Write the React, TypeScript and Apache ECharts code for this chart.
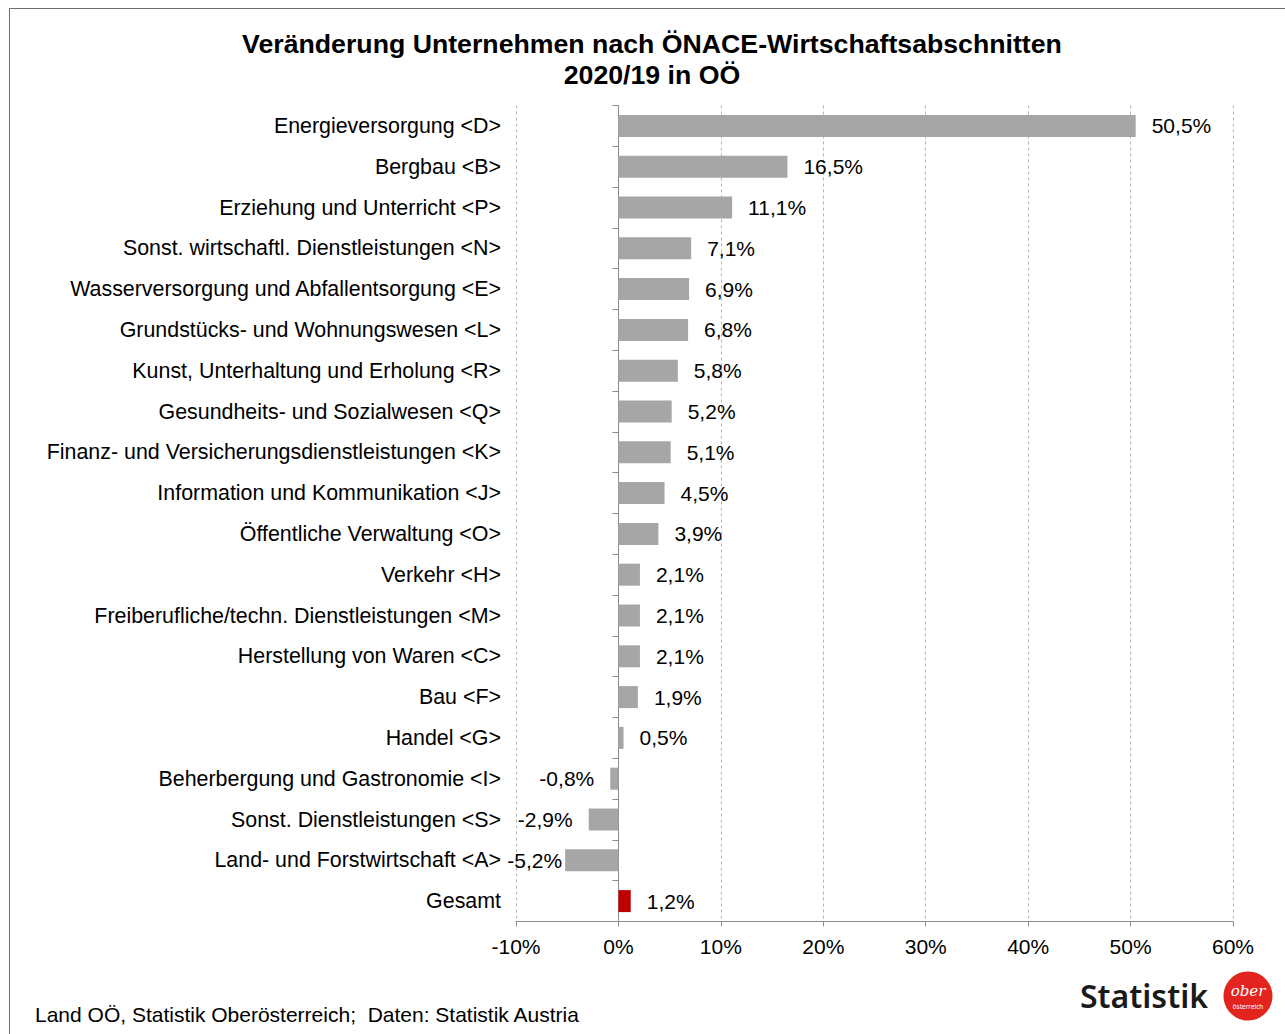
import React, { useEffect, useRef } from "react";
import * as echarts from "echarts";

const categories: string[] = [
  "Energieversorgung <D>",
  "Bergbau <B>",
  "Erziehung und Unterricht <P>",
  "Sonst. wirtschaftl. Dienstleistungen <N>",
  "Wasserversorgung und Abfallentsorgung <E>",
  "Grundstücks- und Wohnungswesen <L>",
  "Kunst, Unterhaltung und Erholung <R>",
  "Gesundheits- und Sozialwesen <Q>",
  "Finanz- und Versicherungsdienstleistungen <K>",
  "Information und Kommunikation <J>",
  "Öffentliche Verwaltung <O>",
  "Verkehr <H>",
  "Freiberufliche/techn. Dienstleistungen <M>",
  "Herstellung von Waren <C>",
  "Bau <F>",
  "Handel <G>",
  "Beherbergung und Gastronomie <I>",
  "Sonst. Dienstleistungen <S>",
  "Land- und Forstwirtschaft <A>",
  "Gesamt",
];

const values: number[] = [
  50.5, 16.5, 11.1, 7.1, 6.9, 6.8, 5.8, 5.2, 5.1, 4.5, 3.9, 2.1, 2.1, 2.1, 1.9,
  0.5, -0.8, -2.9, -5.2, 1.2,
];

const highlightCategory = "Gesamt";

const titleLines: string[] = [
  "Veränderung Unternehmen nach ÖNACE-Wirtschaftsabschnitten",
  "2020/19 in OÖ",
];

const sourceText = "Land OÖ, Statistik Oberösterreich;  Daten: Statistik Austria";

const FONT = "'Liberation Sans', Arial, sans-serif";
const fmt = (v: number) => v.toFixed(1).replace(".", ",") + "%";

export default function App() {
  const ref = useRef<HTMLDivElement>(null);

  useEffect(() => {
    if (!ref.current) return;
    const chart = echarts.init(ref.current, null, { renderer: "svg" });

    const data = values.map((v, i) => {
      const isHi = categories[i] === highlightCategory;
      const neg = v < 0;
      return {
        value: v,
        itemStyle: { color: isHi ? "#c00000" : "#a6a6a6" },
        label: {
          position: neg ? "left" : "right",
          distance: v <= -5 ? 3 : 16,
        },
      };
    });

    chart.setOption({
      animation: false,
      backgroundColor: "#ffffff",
      textStyle: { fontFamily: FONT },
      grid: {
        left: 516,
        right: 52,
        top: 105.5,
        bottom: 112.5,
        containLabel: false,
      },
      xAxis: {
        type: "value",
        min: -10,
        max: 60,
        interval: 10,
        axisLine: { show: true, lineStyle: { color: "#8c8c8c", width: 1 } },
        axisTick: { show: true, length: 5, lineStyle: { color: "#8c8c8c" } },
        axisLabel: {
          formatter: (v: number) => `${v}%`,
          fontSize: 21,
          color: "#000",
          fontFamily: FONT,
          margin: 14,
        },
        splitLine: {
          show: true,
          lineStyle: { color: "#b3b3b3", type: [3, 3], width: 1 },
        },
      },
      yAxis: [
        {
          type: "category",
          data: categories,
          inverse: true,
          position: "left",
          axisLine: { show: false, onZero: false },
          axisTick: { show: false },
          axisLabel: {
            fontSize: 21.4,
            color: "#000",
            fontFamily: FONT,
            margin: 15,
          },
          splitLine: { show: false },
        },
        {
          type: "category",
          data: categories,
          inverse: true,
          position: "left",
          axisLine: {
            show: true,
            onZero: true,
            lineStyle: { color: "#8c8c8c", width: 1 },
          },
          axisTick: { show: true, length: 6, lineStyle: { color: "#8c8c8c" } },
          axisLabel: { show: false },
          splitLine: { show: false },
        },
      ],
      series: [
        {
          type: "bar",
          yAxisIndex: 0,
          barWidth: 22,
          data,
          label: {
            show: true,
            fontSize: 21,
            color: "#000",
            fontFamily: FONT,
            formatter: (p: any) => fmt(p.value),
          },
          z: 1,
        },
      ],
      graphic: [
        {
          type: "rect",
          shape: { x: 9.5, y: 8.5, width: 1400, height: 1200 },
          style: { fill: "none", stroke: "#6e6e6e", lineWidth: 1 },
          silent: true,
        },
        {
          type: "text",
          x: 652,
          y: 44,
          style: {
            text: titleLines[0],
            fontSize: 26.7,
            fontWeight: "bold",
            fontFamily: FONT,
            fill: "#000",
            align: "center",
            verticalAlign: "middle",
          },
        },
        {
          type: "text",
          x: 652,
          y: 75,
          style: {
            text: titleLines[1],
            fontSize: 26.7,
            fontWeight: "bold",
            fontFamily: FONT,
            fill: "#000",
            align: "center",
            verticalAlign: "middle",
          },
        },
        {
          type: "text",
          x: 35,
          y: 1014,
          style: {
            text: sourceText,
            fontSize: 21,
            fontFamily: FONT,
            fill: "#000",
            align: "left",
            verticalAlign: "middle",
          },
        },
        {
          type: "text",
          x: 1080,
          y: 995,
          style: {
            text: "Statistik",
            fontSize: 32,
            fontWeight: 600,
            fontFamily: "'Noto Sans', sans-serif",
            fill: "#1a1a1a",
            align: "left",
            verticalAlign: "middle",
          },
        },
        {
          type: "circle",
          shape: { cx: 1248, cy: 996, r: 24.5 },
          style: { fill: "#e3231e" },
        },
        {
          type: "text",
          x: 1248,
          y: 991,
          style: {
            text: "ober",
            fontSize: 15,
            fontStyle: "italic",
            fontFamily: "'DejaVu Serif', serif",
            fill: "#ffffff",
            align: "center",
            verticalAlign: "middle",
          },
        },
        {
          type: "text",
          x: 1248,
          y: 1006,
          style: {
            text: "österreich",
            fontSize: 6.5,
            fontFamily: "'Noto Sans', sans-serif",
            fill: "#ffffff",
            align: "center",
            verticalAlign: "middle",
          },
        },
      ],
    });

    return () => {
      chart.dispose();
    };
  }, []);

  return (
    <div
      ref={ref}
      style={{ position: "absolute", left: 0, top: 0, width: 1285, height: 1034 }}
    />
  );
}
